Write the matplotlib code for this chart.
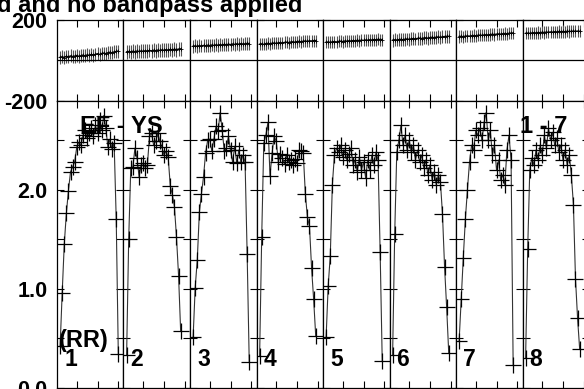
import numpy as np
import matplotlib

matplotlib.use("Agg")
import matplotlib.pyplot as plt

plt.rcParams["font.family"] = ["Liberation Sans", "DejaVu Sans"]
plt.rcParams["font.weight"] = "bold"
plt.rcParams["axes.unicode_minus"] = False

# amplitude per channel (channels start at 2), one list per IF panel
amp1 = [0.42, 0.96, 1.45, 1.76, 1.99, 2.18, 2.23, 2.28, 2.43, 2.48, 2.45, 2.55, 2.60, 2.52, 2.57,
        2.62, 2.54, 2.65, 2.57, 2.70, 2.60, 2.75, 2.62, 2.43, 2.51, 2.41, 2.47, 1.70, 0.34]
amp2 = [0.33, 1.50, 2.22, 2.23, 2.42, 2.32, 2.13, 2.25, 2.27, 2.22, 2.25, 2.54, 2.57, 2.45,
        2.49, 2.57, 2.49, 2.43, 2.35, 2.39, 2.33, 2.04, 1.95, 1.83, 1.52, 1.13, 0.57]
amp3 = [0.51, 1.01, 1.29, 1.77, 1.96, 2.13, 2.37, 2.50, 2.51, 2.39, 2.51, 2.64, 2.59, 2.78,
        2.60, 2.39, 2.42, 2.54, 2.40, 2.28, 2.44, 2.27, 2.40, 2.28, 2.35, 2.28, 1.35, 0.26]
amp4 = [0.32, 1.52, 2.47, 2.55, 2.68, 2.14, 2.37, 2.54, 2.49, 2.28, 2.36, 2.32, 2.26, 2.35,
        2.28, 2.30, 2.25, 2.31, 2.27, 2.40, 2.39, 2.37, 1.96, 1.72, 1.63, 1.21, 0.89, 0.52]
amp5 = [0.51, 1.03, 1.33, 2.05, 2.35, 2.42, 2.38, 2.45, 2.33, 2.40, 2.30, 2.36, 2.42, 2.25,
        2.30, 2.18, 2.33, 2.20, 2.28, 2.12, 2.30, 2.20, 2.35, 2.25, 2.38, 2.30, 1.37, 0.27]
amp6 = [0.33, 1.55, 2.38, 2.50, 2.65, 2.45, 2.55, 2.40, 2.50, 2.38, 2.45, 2.30, 2.40, 2.28,
        2.35, 2.22, 2.30, 2.15, 2.25, 2.10, 2.18, 2.05, 2.15, 2.08, 1.75, 1.22, 0.81, 0.35]
amp7 = [0.47, 0.89, 1.31, 1.70, 2.00, 2.28, 2.45, 2.40, 2.60, 2.55, 2.62, 2.50, 2.68, 2.78,
        2.50, 2.60, 2.35, 2.45, 2.20, 2.30, 2.10, 2.15, 2.05, 2.40, 2.55, 2.30, 0.23]
amp8 = [0.30, 1.40, 2.20, 2.32, 2.25, 2.40, 2.30, 2.45, 2.35, 2.55, 2.42, 2.62, 2.50, 2.58,
        2.45, 2.52, 2.38, 2.45, 2.30, 2.40, 2.25, 2.35, 2.15, 1.85, 1.10, 0.70, 0.39]

# phase (deg) per channel, same channels
ph1 = [15, 18, 14, 20, 17, 22, 19, 21, 24, 20, 23, 26, 22, 27, 25, 29, 26, 30, 33, 29, 34, 36, 33,
       38, 40, 37, 42, 44, 46]
ph2 = [42, 44, 41, 45, 43, 46, 44, 47, 45, 48, 46, 49, 47, 50, 48, 51, 49, 52, 50, 53, 51, 54,
       52, 55, 53, 56, 57]
ph3 = [70, 72, 69, 73, 71, 74, 72, 75, 73, 76, 74, 77, 75, 78, 76, 79, 77, 80, 78, 81, 79, 82,
       80, 83, 81, 82, 84, 83]
ph4 = [80, 82, 79, 83, 84, 82, 85, 86, 84, 87, 88, 86, 89, 90, 88, 91, 92, 90, 93, 94, 92, 95,
       96, 94, 97, 96, 98, 98]
ph5 = [90, 91, 89, 92, 93, 91, 94, 95, 93, 96, 95, 97, 96, 98, 97, 99, 98, 100, 99, 101, 100,
       102, 101, 103, 102, 104, 103, 103]
ph6 = [100, 102, 101, 103, 104, 102, 105, 106, 104, 107, 108, 106, 109, 110, 108, 111, 112, 110,
       113, 114, 112, 115, 116, 114, 117, 118, 119, 119]
ph7 = [118, 119, 117, 120, 121, 120, 122, 123, 122, 124, 125, 124, 126, 127, 126, 128, 129, 128,
       130, 131, 130, 132, 133, 132, 134, 135, 136]
ph8 = [134, 135, 134, 136, 137, 136, 138, 137, 139, 138, 140, 139, 141, 140, 142, 141, 143, 142,
       143, 142, 144, 143, 144, 145, 144, 145, 144]

ph_err = [32, 34, 32, 30, 30, 32, 30, 30]

amps = [amp1, amp2, amp3, amp4, amp5, amp6, amp7, amp8]
phases = [ph1, ph2, ph3, ph4, ph5, ph6, ph7, ph8]
if_labels = ["1", "2", "3", "4", "5", "6", "7", "8"]
n_panels = len(amps)

W, H = 584, 389
fig = plt.figure(figsize=(W / 100, H / 100), dpi=100)
gs = fig.add_gridspec(2, n_panels, left=57 / W, right=(57 + 66.5 * n_panels) / W,
                      bottom=1.5 / H, top=1 - 20 / H, height_ratios=[80.7, 286.8],
                      wspace=0, hspace=0)

tick_kw = dict(direction="in", length=5, width=0.8, top=True, bottom=True,
               left=True, right=True, labelsize=15.5, pad=7, color="black")

for i in range(n_panels):
    axp = fig.add_subplot(gs[0, i])
    axa = fig.add_subplot(gs[1, i])
    ch = np.arange(2, 2 + len(amps[i]))
    chp = np.arange(2, 2 + len(phases[i]))

    # phase row: values with error bars
    axp.errorbar(chp, phases[i], yerr=ph_err[i], fmt="-", color="black", lw=1.0,
                 marker="+", ms=3, mew=0.6, ecolor="#555555", elinewidth=0.8)
    axp.axhline(0, color="black", lw=0.9)
    axp.set_xlim(0.5, 32.5)
    axp.set_ylim(-200, 200)
    axp.set_xticks([10, 20, 30])
    axp.set_yticks([-200, 200])
    axp.tick_params(**tick_kw)
    axp.tick_params(labelbottom=False)

    # amplitude row
    axa.plot(ch, amps[i], color="#333333", lw=0.8, marker="+", ms=11, mew=0.9,
             mec="black")
    axa.set_xlim(0.5, 32.5)
    axa.set_ylim(0, 2.9)
    axa.set_xticks([10, 20, 30])
    axa.set_yticks([0, 0.5, 1.0, 1.5, 2.0, 2.5])
    axa.set_yticklabels(["0.0", "", "1.0", "", "2.0", ""])
    axa.tick_params(**tick_kw)
    axa.tick_params(labelbottom=False)

    for ax in (axp, axa):
        for s in ax.spines.values():
            s.set_linewidth(0.9)
        if i > 0:
            ax.tick_params(labelleft=False)

    axa.text(0.5 + 7 / 2.078, 0.22, if_labels[i], fontsize=16.5, fontweight="bold",
             ha="left", va="baseline")

fig.text(-3 / W, 1 - 11.7 / H, "d and no bandpass applied", fontsize=17,
         fontweight="bold", ha="left", va="baseline")
fig.text(80 / W, 1 - 133.3 / H, "EF - YS", fontsize=17, fontweight="bold",
         ha="left", va="baseline")
fig.text(520 / W, 1 - 133.3 / H, "1 - 7", fontsize=17, fontweight="bold",
         ha="left", va="baseline")
fig.text(59 / W, 1 - 346.7 / H, "(RR)", fontsize=17, fontweight="bold",
         ha="left", va="baseline")

fig.savefig("out.png", dpi=100)
